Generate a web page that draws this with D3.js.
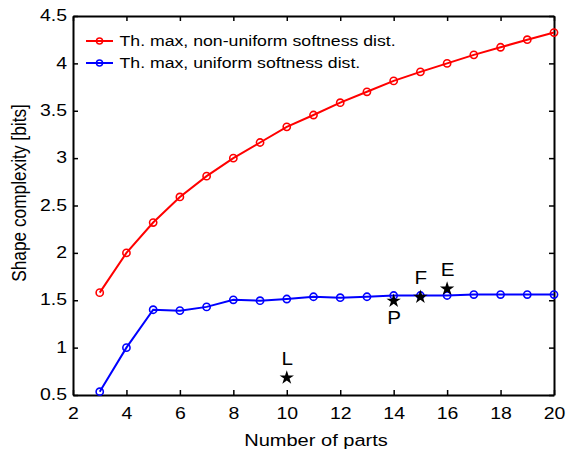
<!DOCTYPE html>
<html>
<head>
<meta charset="utf-8">
<script src="https://cdn.jsdelivr.net/npm/d3@7"></script>
<style>
  body { margin: 0; background: #fff; }
  svg { display: block; font-family: "Liberation Sans", Arial, Helvetica, sans-serif; }
</style>
</head>
<body>
<svg id="chart" width="574" height="457"></svg>
<script>
const parts = [3, 4, 5, 6, 7, 8, 9, 10, 11, 12, 13, 14, 15, 16, 17, 18, 19, 20]
const nonUniform = [1.58, 2.0, 2.32, 2.59, 2.81, 3.0, 3.165, 3.33, 3.455, 3.585, 3.70, 3.815, 3.91, 4.0, 4.09, 4.17, 4.25, 4.325]
const uniform = [0.535, 1.0, 1.40, 1.39, 1.43, 1.505, 1.495, 1.513, 1.537, 1.527, 1.537, 1.55, 1.55, 1.55, 1.56, 1.56, 1.56, 1.56]
const seriesNames = ['Th. max, non-uniform softness dist.', 'Th. max, uniform softness dist.']
const seriesColors = ['#ff0000', '#0000ff']

// individual shapes marked with stars
const starLabels = ['L', 'P', 'F', 'E']
const starParts = [10, 14, 15, 16]
const starValues = [0.693, 1.503, 1.545, 1.632]
const labelAbove = [true, false, true, true]

const xTicks = [2, 4, 6, 8, 10, 12, 14, 16, 18, 20]
const yTicks = [0.5, 1, 1.5, 2, 2.5, 3, 3.5, 4, 4.5]

const svg = d3.select('#chart')
const margin = { left: 73, right: 20, top: 16, bottom: 62 }
const W = 574, H = 457
// the original figure is a bit wider than tall, text looks stretched sideways
const stretch = 1.18

const x = d3.scaleLinear().domain([2, 20]).range([margin.left, W - margin.right])
const y = d3.scaleLinear().domain([0.5, 4.5]).range([H - margin.bottom, margin.top])

const tickLen = 5

// axes, ticks pointing inward, mirrored on top / right
const xAxis = svg.append('g')
    .attr('transform', `translate(0,${y(0.5)})`)
    .call(d3.axisBottom(x).tickValues(xTicks).tickSizeInner(-tickLen).tickSizeOuter(0))
svg.append('g')
    .attr('transform', `translate(0,${y(4.5)})`)
    .call(d3.axisTop(x).tickValues(xTicks).tickSizeInner(-tickLen).tickSizeOuter(0).tickFormat(''))
const yAxis = svg.append('g')
    .attr('transform', `translate(${x(2)},0)`)
    .call(d3.axisLeft(y).tickValues(yTicks).tickSizeInner(-tickLen).tickSizeOuter(0).tickFormat(d3.format('')))
svg.append('g')
    .attr('transform', `translate(${x(20)},0)`)
    .call(d3.axisRight(y).tickValues(yTicks).tickSizeInner(-tickLen).tickSizeOuter(0).tickFormat(''))

svg.selectAll('.domain').attr('stroke', '#000').attr('stroke-width', 2)
svg.selectAll('.tick line').attr('stroke', '#000').attr('stroke-width', 1.5)
svg.selectAll('.tick text')
    .attr('font-size', 16.5)
    .attr('fill', '#000')
    .attr('font-family', '"Liberation Sans", Arial, sans-serif')

xAxis.selectAll('.tick text')
    .attr('y', 24)
    .attr('dy', 0)
    .attr('transform', `scale(${stretch},1)`)
yAxis.selectAll('.tick text')
    .attr('x', -6 / stretch)
    .attr('dy', '0.28em')
    .attr('transform', `scale(${stretch},1)`)

// axis titles
svg.append('text')
    .attr('transform', `translate(316,446) scale(${stretch},1)`)
    .attr('text-anchor', 'middle')
    .attr('font-size', 17)
    .text('Number of parts')
svg.append('text')
    .attr('transform', `translate(26,193) rotate(-90) scale(1,${stretch})`)
    .attr('text-anchor', 'middle')
    .attr('font-size', 17.3)
    .text('Shape complexity [bits]')

// series
const series = [nonUniform, uniform]
const line = d3.line().x((d, i) => x(parts[i])).y(d => y(d))

series.forEach((vals, k) => {
    const g = svg.append('g')
    g.append('path')
        .datum(vals)
        .attr('d', line)
        .attr('fill', 'none')
        .attr('stroke', seriesColors[k])
        .attr('stroke-width', 2)
    g.selectAll('circle')
        .data(vals)
        .join('circle')
        .attr('cx', (d, i) => x(parts[i]))
        .attr('cy', d => y(d))
        .attr('r', 3.6)
        .attr('fill', 'none')
        .attr('stroke', seriesColors[k])
        .attr('stroke-width', 1.6)
})

// stars with letters
const star = d3.symbol().type(d3.symbolStar).size(64)
const stars = svg.append('g')
    .selectAll('g')
    .data(starLabels)
    .join('g')
    .attr('transform', (d, i) => `translate(${x(starParts[i])},${y(starValues[i])})`)
stars.append('path')
    .attr('d', star)
    .attr('transform', 'translate(0,1)')
    .attr('fill', '#000')
stars.append('text')
    .attr('text-anchor', 'middle')
    .attr('font-size', 17.5)
    .attr('transform', (d, i) => `translate(0.5,${labelAbove[i] ? -11.5 : 24}) scale(${stretch},1)`)
    .text(d => d)

// legend
const legend = svg.append('g')
    .selectAll('g')
    .data(seriesNames)
    .join('g')
    .attr('transform', (d, i) => `translate(86,${41 + i * 22})`)
legend.append('line')
    .attr('x1', 0).attr('x2', 27)
    .attr('stroke', (d, i) => seriesColors[i])
    .attr('stroke-width', 2)
legend.append('circle')
    .attr('cx', 13.5)
    .attr('r', 3)
    .attr('fill', 'none')
    .attr('stroke', (d, i) => seriesColors[i])
    .attr('stroke-width', 1.5)
legend.append('text')
    .attr('transform', `translate(33.5,0) scale(${stretch},1)`)
    .attr('dy', '0.35em')
    .attr('font-size', 15)
    .text(d => d)
</script>
</body>
</html>
